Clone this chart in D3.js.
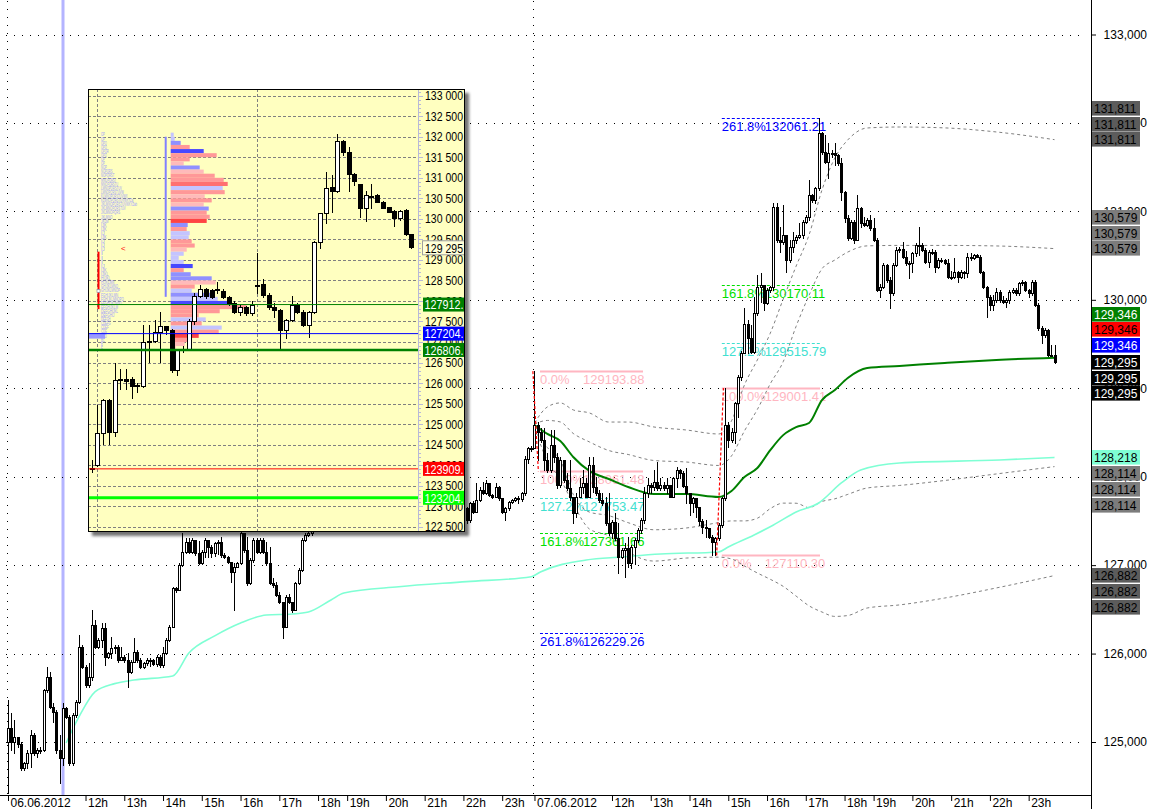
<!DOCTYPE html>
<html><head><meta charset="utf-8">
<script src="https://cdn.jsdelivr.net/npm/d3@7"></script>
<style>
html,body{margin:0;padding:0;background:#fff;}
svg{display:block;font-family:"Liberation Sans",Arial,sans-serif;}
</style></head><body>
<svg id="c" width="1149" height="809"></svg>
<script>
// ---------------- DATA ----------------
const yTicks = [125000,126000,127000,128000,129000,130000,131000,132000,133000];
const xTickBars = [0,24,36,48,60,72,84,96,105,117,129,141,153,163,187,199,211,223,235,247,259,268,280,292,304,316];
const xTickLabels = ["06.06.2012","12h","13h","14h","15h","16h","17h","18h","19h","20h","21h","22h","23h","07.06.2012","12h","13h","14h","15h","16h","17h","18h","19h","20h","21h","22h","23h"];
const dayStartBars = [0,163];
const markerBar = 17;
const firstOpen = 125004;

const day1Close = [125154,125004,125060,124977,124702,124759,124872,125079,124872,124909,
 124909,125588,125739,125399,125343,124909,124815,125380,125286,124759,
 125305,125456,126078,125852,125644,125739,126323,126078,126153,126285,
 125965,126002,126059,126078,125927,125965,125927,125795,125908,126021,
 125927,125852,125889,125927,125927,125882,125965,125870,126002,126153,
 126304,126737,126719,127001,127152,127265,127152,127284,127133,127020,
 127152,127284,127208,127133,127246,127265,127114,127095,127039,126926,
 126975,127020,127359,127171,126794,127058,127284,127152,127284,127152,
 127020,126794,126775,126662,126587,126304,126643,126587,126492,126794,
 126945,127284,127340,127359,127450,127560,127700,127850,128000,127950,
 128100,128200,128150,128050,128150,128250,128300,128200,128100,128150,
 128250,128200,128100,128000,128050,128150,128100,128000,127950,128050,
 128100,128000,127900,127950,128000,127900,127850,127900,127950,127850,
 127800,127850,127900,127800,127750,127800,127850,127750,127700,127750,
 127700,127650,127510,127699,127605,127737,127850,127812,127925,127793,
 127774,127887,127755,127605,127642,127718,127737,127755,127750,127811,
 128200,128320,128330];
const day1High = [125475,125332,125249,125060,125004,124777,124909,125136,125098,124928,
 124947,125595,125852,125795,125437,125362,125079,125437,125399,125305,
 125324,125475,126210,126097,125870,125889,126492,126379,126172,126342,
 126342,126021,126191,126097,126097,126078,125983,126002,125927,126172,
 126040,125946,125908,125946,125946,125935,125983,125983,126078,126172,
 126323,126756,126756,127020,127359,127303,127303,127303,127284,127276,
 127171,127303,127284,127227,127265,127284,127322,127133,127103,127039,
 127020,127039,127378,127367,127322,127077,127303,127303,127303,127303,
 127265,127208,126850,126813,126700,126587,126662,126673,126587,126813,
 126963,127303,127359,127397,127480,127600,127740,127880,128040,128030,
 128130,128250,128230,128170,128180,128300,128340,128320,128220,128190,
 128280,128270,128220,128120,128090,128180,128170,128120,128030,128080,
 128140,128120,128020,127980,128040,128020,127920,127930,127990,127970,
 127870,127880,127930,127920,127820,127830,127880,127870,127770,127780,
 127770,127720,127660,127718,127720,127925,127887,127944,127963,127930,
 127800,127925,127890,127760,127660,127730,127750,127770,127780,127830,
 128230,128340,128350];
const day1Low = [124420,124909,124872,124947,124683,124683,124702,124721,124853,124827,
 124872,124902,125569,125380,125230,124872,124533,124740,125267,124740,
 124740,125286,125445,125833,125626,125626,125701,126059,126059,126078,
 125870,125946,125946,126002,125908,125927,125908,125626,125776,125908,
 125908,125833,125833,125870,125863,125870,125863,125852,125852,125995,
 126146,126296,126700,126719,126990,127133,127133,127141,127114,127012,
 127012,127088,127088,127088,127103,127126,127095,127077,127028,126813,
 126492,126975,127012,127152,126775,126786,127039,127133,127141,127133,
 127001,126786,126756,126651,126575,126172,126296,126568,126474,126523,
 126786,126937,127276,127329,127340,127430,127540,127680,127830,127920,
 127930,128080,128120,128020,128030,128120,128220,128170,128070,128080,
 128120,128170,128080,127970,127980,128030,128070,127970,127920,127930,
 128030,127970,127870,127880,127930,127880,127820,127830,127880,127830,
 127770,127780,127830,127780,127720,127730,127780,127720,127670,127680,
 127670,127620,127480,127492,127590,127600,127720,127800,127800,127780,
 127760,127770,127740,127590,127510,127620,127700,127720,127700,127730,
 127790,128150,128290];

const day2Close = [128584,128509,128415,128188,128075,128358,128226,127906,128188,127962,
 127868,127774,127585,127774,127887,127925,127774,128132,127887,127811,
 127736,127698,127472,127359,127491,127303,127095,127171,127190,127020,
 127208,127284,127397,127510,127811,127906,127887,127943,127868,127906,
 127868,127906,127774,127981,128075,128040,127900,127811,127698,127755,
 127661,127500,127435,127416,127321,127265,127303,127454,127755,128584,
 128415,128509,128829,129131,129399,129726,129564,129413,129847,130148,
 130167,129960,130111,130148,131053,130676,130657,130733,130450,130601,
 130676,130714,130733,130883,130940,131185,131128,131260,131882,131675,
 131562,131656,131656,131637,131543,131223,130921,130695,130883,130676,
 131034,130872,130846,130902,130808,130676,130111,130148,130393,130224,
 130073,130393,130563,130570,130488,130412,130412,130525,130620,130620,
 130563,130431,130544,130544,130374,130450,130450,130412,130262,130262,
 130318,130262,130318,130300,130488,130469,130506,130488,130318,130148,
 130035,129941,129998,130092,129998,129979,129998,130092,130111,130073,
 130186,130205,130111,130073,130205,129941,129677,129602,129658,129376,
 129376,129295];
const day2High = [129194,128622,128546,128546,128264,128528,128528,128264,128226,128188,
 128037,128188,127774,127811,127981,128075,127981,128226,128226,128000,
 127849,127811,127774,127811,127510,127585,127472,127190,127246,127321,
 127227,127303,127416,127529,127887,127981,127925,128075,128169,127981,
 127943,127981,127906,128000,128113,128090,128060,128094,127811,127774,
 127755,127661,127520,127510,127397,127340,127321,127472,127774,129001,
 128620,128547,128850,129150,129420,129903,129771,129712,130035,130280,
 130299,130150,130130,130160,131091,131091,130827,131072,130720,130680,
 130770,130730,130864,130900,130960,131354,131200,131280,132061,131900,
 131863,131769,131690,131769,131650,131600,131230,130959,130900,130900,
 131185,131053,130940,130920,130959,130921,130700,130180,130412,130400,
 130262,130412,130601,130601,130657,130550,130440,130540,130640,130827,
 130640,130590,130560,130570,130560,130470,130470,130460,130460,130330,
 130469,130330,130340,130330,130525,130525,130520,130520,130510,130330,
 130160,130060,130054,130130,130110,130040,130020,130110,130130,130130,
 130200,130225,130210,130120,130225,130220,129960,129700,129680,129670,
 129489,129489];
const day2Low = [128320,128188,128396,128075,128056,128056,128169,127868,127887,127943,
 127849,127736,127472,127548,127766,127811,127766,127766,127830,127792,
 127717,127679,127453,127340,127303,127284,126907,127076,126869,126982,
 126963,127012,127265,127359,127472,127774,127811,127849,127849,127849,
 127849,127811,127766,127766,127887,127980,127880,127698,127566,127604,
 127548,127450,127359,127321,127303,127114,127110,127284,127435,127740,
 128340,128390,128381,128678,129094,129394,129394,129394,129394,129828,
 129980,129885,129950,130090,130111,130657,130544,130630,130318,130431,
 130544,130640,130700,130700,130870,130902,131110,131091,131241,131650,
 131543,131373,131620,131524,131520,131128,130883,130676,130690,130638,
 130846,130827,130830,130840,130789,130660,130100,130035,130130,130200,
 129903,130060,130380,130544,130470,130393,130243,130318,130500,130506,
 130550,130412,130374,130520,130318,130360,130430,130400,130250,130240,
 130250,130205,130250,130250,130260,130450,130460,130480,130300,130130,
 129809,129885,129885,129980,129980,129960,129922,129960,130080,130060,
 130054,130170,130100,130035,130060,129930,129660,129508,129580,129360,
 129360,129282];

// running VWAP line (aquamarine)
const aquaBars = [18,22,27,33,39,51,56,64,72,80,88,93,100,104,121,142,162,165,179,190,202,220,223,231,237,244,251,258,264,276,307,324];
const aquaValues = [124989,125286,125569,125660,125701,125747,126007,126200,126346,126436,126447,126470,126606,126685,126756,126813,126869,126926,127058,127092,127126,127149,127205,127341,127454,127601,127703,127929,128076,128155,128189,128218];

// day-2 VWAP and deviation bands
const vwapBars = [163,167,171,175,180,186,192,200,210,220,224,228,232,236,240,244,248,252,256,260,266,276,290,306,324];
const vwapValues = [128585,128483,128404,128223,128065,127974,127884,127804,127804,127771,127839,127997,128098,128300,128470,128560,128607,128867,128980,129116,129229,129252,129286,129320,129346];
const bandUp2 = [128607,128789,128834,128755,128721,128618,128618,128562,128528,128483,128631,129037,129320,129622,130008,130380,130733,131241,131604,131808,131943,131954,131944,131898,131811];
const bandUp1 = [128596,128636,128619,128489,128393,128296,128251,128183,128166,128127,128235,128517,128760,129050,129300,129700,130050,130350,130450,130540,130610,130615,130615,130609,130579];
const bandLo1 = [128574,128330,128189,127800,127600,127560,127480,127400,127420,127480,127500,127500,127530,127639,127701,127700,127650,127720,127750,127800,127872,127901,127957,128031,128114];
const bandLo2 = [128563,128177,127974,127691,127409,127330,127150,127046,127080,127090,127070,126990,126911,126840,126760,126650,126540,126470,126420,126430,126515,126550,126628,126742,126882];

// Fibonacci annotations
const fibLabels = ["0.0%","100.0%","127.2%","161.8%","261.8%"];
const fib1Values = [129193.88,128061.48,127753.47,127361.66,126229.26];
const fib2Values = [127110.30,129001.41,129515.79,130170.11,132061.21];
const fib1Span = [164.7,196.6], fib2Span = [221,251.4];
const fib1Anchor = [162.5,164.2], fib2Anchor = [219.4,221.5];

// right-hand price labels
const labelValues = [131811,131811,131811,130579,130579,130579,129346,129346,129346,129295,129295,129295,128218,128114,128114,128114,126882,126882,126882];
const labelFills = ["#5c5c5c","#5c5c5c","#5c5c5c","#7c7c7c","#7c7c7c","#7c7c7c","#008000","#ff0000","#0000ff","#000","#000","#000","#7fffd4","#7c7c7c","#7c7c7c","#7c7c7c","#5c5c5c","#5c5c5c","#5c5c5c"];
const labelText = ["#000","#000","#000","#000","#000","#000","#fff","#000","#fff","#fff","#fff","#fff","#000","#000","#000","#000","#000","#000","#000"];
const labelSlot = [-2,-1,0,-2,-1,0,-2.75,-1.8,-0.8,0,1,2,0,0.45,1.45,2.45,0,1,2];

// ---- inset (30-minute chart with volume / market profile) ----
const insetTicks = [122500,123000,123500,124000,124500,125000,125500,126000,126500,127000,127500,128000,128500,129000,129500,130000,130500,131000,131500,132000,132500,133000];
const insetDayBars = [0,28];
const insetOpen = [123900,124004,124775,125587,124816,126074,126090,126090,125928,125928,127008,127030,127252,127390,127292,126318,126805,126830,127500,128129,128292,128270,128290,128250,128090,127943,127740,127860,127700,
 128380,128405,128145,127861,127780,127292,127536,127900,127740,127414,127739,129445,130135,130768,130687,131897,131637,131085,130841,130273,130541,130581,130419,130289,130192,130029,130216,129623];
const insetHigh = [124126,125465,125600,125600,126497,126334,126330,126155,125993,127414,127414,127536,127730,127400,127310,126830,126900,127560,128200,128380,128320,128300,128470,128280,128110,128000,127900,127880,128000,
 129160,128535,128200,127950,127800,127560,128130,127950,127780,127750,129460,130150,131134,131069,132059,131920,131759,131110,130860,130679,130841,130600,130430,130300,130210,130210,130230,129640];
const insetLow = [123841,123990,124515,124515,124710,125847,125850,125628,125790,125900,126521,127000,126521,127200,126277,126196,126760,126800,127450,128100,128080,128080,128186,128080,127900,127700,127660,127650,127650,
 128186,128100,127800,127600,126846,127100,127500,127700,127400,127130,127700,129282,129891,130175,130650,131560,130679,130825,130054,129948,130257,130400,130260,130160,129834,129972,129610,129290];
const insetClose = [123930,124775,125587,124816,126074,126090,126060,125928,125950,127008,127030,127252,127390,127292,126318,126805,126830,127500,128130,128292,128129,128105,128295,128105,127943,127740,127860,127700,127900,
 128395,128145,127861,127780,127292,127536,127900,127740,127414,127739,129445,130135,130744,130687,131897,131637,131085,130922,130273,130581,130560,130419,130273,130175,130029,130192,129623,129307];
const insetFirstBar = -1;
const profileTop = 132100, profileStep = 100;
const profileVol = [3,4,10,19,33,46,19,13,29,33,44,53,57,52,54,34,41,33,38,36,39,36,17,16,19,18,21,24,16,13,8,13,22,13,20,41,45,24,21,44,47,58,76,49,28,35,31,51,48,28,21,14,5];
const profileKind = "LLBPDPPKBKPPSLPKPKBPPRBPLLPPKLLLDPBBKPLBLDPPPLPLPRPKK";
const tpoRows = ["OP","OP","OPQ","OPQ","OPQR","OPQ","OP","OP","NOP","NOPQRS","NOPQRST","MNOPQRST","MNOPQRSTU","LMNOPQRSTUV","LMNOPQRSTUVW","KLMNOPQRSTUVWX","KLMNOPQRSTUVWXYZa","JKLMNOPQRSTUVWXYZab","JKLMNOPQRSTUV","JKLMNOPQRS","JKLMNO","JKLM","IJK","IJK","IJ","IJK","IJ","IJ","IJ","I","I","I","IJ","IJK","IJKL","HIJKL","HIJKLMN","GHIJKLMNO","GHIJKLMNOP","FGHIJKLMN","FGHIJKLMNOPQ","EFGHIJKLMNO","EFGHIJKLM","DEFGHIJKL","DEFGHIJ","DEFGH","CDEFG","CDEF","CDE","BCD","BC","B","E"];
const insetLevels = [127912,127204,126806,123909,123204];
const insetLevelNames = ["127912.","127204.","126806.","123909.","123204."];
const insetLast = 129295;
const ibRange = [129200,127800];
const ibMark = 128245;
const valueArea = [132000,128100];

// ---------------- DRAWING ----------------
const svg = d3.select('#c');
const W = 1149, H = 809, plotR = 1091, plotB = 795;
const x = d3.scaleLinear().domain([0,324]).range([8,1054.5]);
const y = d3.scaleLinear().domain([125000,133000]).range([742,34.5]);

svg.append('rect').attr('width',W).attr('height',H).attr('fill','#fff');

// lavender marker band
svg.append('rect').attr('x',Math.round(x(markerBar))-1.5).attr('y',0).attr('width',3).attr('height',plotB).attr('fill','#b4b4ff');

// dotted grid
const grid = svg.append('g').attr('stroke','#000').attr('stroke-width',1).attr('stroke-dasharray','1,7').attr('shape-rendering','crispEdges');
yTicks.forEach(v=>{const yy=Math.round(y(v))+0.5;grid.append('line').attr('x1',6).attr('x2',1084).attr('y1',yy).attr('y2',yy);});
dayStartBars.forEach(b=>{const xx=Math.round(x(b)-1.5)+0.5;grid.append('line').attr('x1',xx).attr('x2',xx).attr('y1',1).attr('y2',plotB);});

// Fibonacci sets
const fibColors = ["#ffb6c1","#ffb6c1","#40e0d0","#00e000","#0000ff"];
function drawFib(vals,span){
  const g = svg.append('g');
  vals.forEach((v,i)=>{
    const yy = Math.round(y(v))+0.5;
    g.append('line').attr('x1',x(span[0])).attr('x2',x(span[1])).attr('y1',yy).attr('y2',yy)
      .attr('stroke',fibColors[i]).attr('stroke-width',i<2?2:1).attr('stroke-dasharray',i<2?null:'3,2');
    g.append('text').attr('x',x(span[0])).attr('y',yy+12.5).attr('fill',fibColors[i]).attr('font-size',13).text(fibLabels[i]);
    g.append('text').attr('x',x(span[0])+43).attr('y',yy+12.5).attr('fill',fibColors[i]).attr('font-size',13).text(v.toFixed(2));
  });
}
drawFib(fib1Values,fib1Span);
drawFib(fib2Values,fib2Span);

// lines
function seriesLine(bars,vals){return d3.line().x((d,i)=>x(bars[i])).y(d=>y(d)).curve(d3.curveMonotoneX)(vals);}
[bandUp2,bandUp1,bandLo1,bandLo2].forEach(b=>{
  svg.append('path').attr('d',seriesLine(vwapBars,b)).attr('fill','none').attr('stroke','#808080').attr('stroke-width',1).attr('stroke-dasharray','3,3');
});
svg.append('path').attr('d',seriesLine(aquaBars,aquaValues)).attr('fill','none').attr('stroke','#7fffd4').attr('stroke-width',1.6);
svg.append('path').attr('d',seriesLine(vwapBars,vwapValues)).attr('fill','none').attr('stroke','#008000').attr('stroke-width',2);

// candles
const closes = day1Close.concat(day2Close), highs = day1High.concat(day2High), lows = day1Low.concat(day2Low);
const candles = closes.map((c,i)=>{const o = i===0?firstOpen:closes[i-1];return {i,o,c,h:Math.max(highs[i],o,c),l:Math.min(lows[i],o,c)};});
const cg = svg.append('g').attr('shape-rendering','crispEdges');
candles.forEach(d=>{
  const cx = Math.round(x(d.i));
  cg.append('line').attr('x1',cx+0.5).attr('x2',cx+0.5).attr('y1',Math.round(y(d.h))).attr('y2',Math.round(y(d.l))+1).attr('stroke','#000');
  const t = Math.round(y(Math.max(d.o,d.c))), b = Math.round(y(Math.min(d.o,d.c)));
  cg.append('rect').attr('x',cx-0.5).attr('y',t+0.5).attr('width',2).attr('height',Math.max(1,b-t))
    .attr('fill',d.c>=d.o?'#fff':'#000').attr('stroke','#000').attr('stroke-width',1);
});

// fib anchor connectors
[[fib1Anchor,fib1Values],[fib2Anchor,fib2Values]].forEach(([a,v])=>{
  svg.append('line').attr('x1',x(a[0])).attr('x2',x(a[1])).attr('y1',y(v[0])).attr('y2',y(v[1]))
    .attr('stroke','#ff0000').attr('stroke-width',1.2).attr('stroke-dasharray','3,2');
});

// ---------------- INSET ----------------
const defs = svg.append('defs');
const f = defs.append('filter').attr('id','sh').attr('x','-5%').attr('y','-5%').attr('width','115%').attr('height','115%');
f.append('feDropShadow').attr('dx',4).attr('dy',4).attr('stdDeviation',1.5).attr('flood-color','#000').attr('flood-opacity',0.55);
defs.append('clipPath').attr('id','ic').append('rect').attr('x',88).attr('y',89).attr('width',377).attr('height',443);

const ix = d3.scaleLinear().domain([0,55]).range([97.4,411.45]);
const iy = d3.scaleLinear().domain([122500,133000]).range([526.7,95.7]);
const ig = svg.append('g');
ig.append('rect').attr('x',88).attr('y',89).attr('width',377).attr('height',443).attr('fill','#ffffc0').attr('filter','url(#sh)');
const inner = ig.append('g').attr('clip-path','url(#ic)');

// inset grid
const ig2 = inner.append('g').attr('stroke','#808080').attr('stroke-dasharray','3,2').attr('shape-rendering','crispEdges');
insetTicks.forEach(v=>{const yy=Math.round(iy(v))+0.5;ig2.append('line').attr('x1',88).attr('x2',416).attr('y1',yy).attr('y2',yy);});
insetDayBars.forEach(b=>{const xx=Math.round(ix(b))+0.5;ig2.append('line').attr('x1',xx).attr('x2',xx).attr('y1',89).attr('y2',532);});

// ruler
const ruler = inner.append('g').attr('stroke','#b8b8d8').attr('shape-rendering','crispEdges');
ruler.append('line').attr('x1',418.5).attr('x2',418.5).attr('y1',89).attr('y2',532);
d3.range(122400,133300,100).forEach(v=>{const yy=Math.round(iy(v))+0.5;ruler.append('line').attr('x1',418).attr('x2',v%500===0?423:421).attr('y1',yy).attr('y2',yy);});
const ifont = "'Liberation Sans Narrow','Arial Narrow','Liberation Sans',sans-serif";
function narrowText(g,xx,yy,txt,col,len){
  return g.append('text').attr('x',xx).attr('y',yy).attr('font-family',ifont).attr('font-size',13).attr('fill',col)
    .attr('textLength',len).attr('lengthAdjust','spacingAndGlyphs').text(txt);
}
insetTicks.forEach(v=>narrowText(inner,425,iy(v)+4.6,d3.format(',')(v).replace(',',' '),'#000',38));

// market profile letters
const rowY = k=>iy(profileTop - k*profileStep);
tpoRows.forEach((s,k)=>{
  inner.append('text').attr('x',101).attr('y',rowY(k)+3.8).attr('font-size',5.5).attr('fill','#9a9aff')
    .attr('textLength',s.length*1.9).attr('lengthAdjust','spacingAndGlyphs').text(s);
});
// volume profile
const kindColor = {L:'#c4c4ff',B:'#9090ff',D:'#4848ff',P:'#ff9898',K:'#ffbaba',S:'#ff7070',R:'#ff4444'};
const vx = d3.scaleLinear().domain([0,100]).range([0,100]);
profileVol.forEach((v,k)=>{
  const t = rowY(k), b = iy(profileTop-(k+1)*profileStep);
  inner.append('rect').attr('x',170.7).attr('y',t).attr('width',vx(v)).attr('height',b-t).attr('fill',kindColor[profileKind[k]]);
});
// value area / initial balance markers
inner.append('line').attr('x1',165.7).attr('x2',165.7).attr('y1',iy(valueArea[0])).attr('y2',iy(valueArea[1])).attr('stroke','#8080ff').attr('stroke-width',2);
inner.append('line').attr('x1',98.5).attr('x2',98.5).attr('y1',iy(ibRange[0])).attr('y2',iy(ibRange[1])).attr('stroke','#ff0000').attr('stroke-width',2);
inner.append('rect').attr('x',97).attr('y',iy(ibMark)-1.5).attr('width',3).attr('height',3).attr('fill','#fff').attr('stroke','#8080a0').attr('stroke-width',0.6);
inner.append('text').attr('x',121).attr('y',iy(insetLast)+3).attr('font-size',8).attr('fill','#ff0000').text('<');
inner.append('rect').attr('x',88).attr('y',iy(insetLevels[1])).attr('width',17).attr('height',5).attr('fill','#9a9aff');

// inset candles
const icg = inner.append('g').attr('shape-rendering','crispEdges');
insetClose.forEach((c,k)=>{
  const j = k + insetFirstBar, o = insetOpen[k];
  const cx = Math.round(ix(j));
  const hi = Math.max(insetHigh[k],o,c), lo = Math.min(insetLow[k],o,c);
  icg.append('line').attr('x1',cx+0.5).attr('x2',cx+0.5).attr('y1',Math.round(iy(hi))).attr('y2',Math.round(iy(lo))+1).attr('stroke','#000');
  const t = Math.round(iy(Math.max(o,c))), b = Math.round(iy(Math.min(o,c)));
  icg.append('rect').attr('x',cx-1.5).attr('y',t+0.5).attr('width',4).attr('height',Math.max(1,b-t))
    .attr('fill',c>=o?'#fff':'#000').attr('stroke','#000');
});

// inset level lines + labels
const lvlColor = ['#008000','#0000ff','#008000','#ff0000','#00ff00'];
const lvlWidth = [1,1,2.5,1,3];
insetLevels.forEach((v,i)=>{
  const yy = iy(v);
  inner.append('line').attr('x1',88).attr('x2',418).attr('y1',yy).attr('y2',yy).attr('stroke',lvlColor[i]).attr('stroke-width',lvlWidth[i]);
  inner.append('rect').attr('x',423).attr('y',yy-7).attr('width',42).attr('height',14).attr('fill',lvlColor[i]);
  narrowText(inner,424.5,yy+4.8,insetLevelNames[i],'#fff',39);
});
{
  const yy = iy(insetLast);
  inner.append('rect').attr('x',422.5).attr('y',yy-7).attr('width',42).attr('height',14).attr('fill','#ffffd8').attr('stroke','#a0a0a0');
  narrowText(inner,425,yy+4.8,d3.format(',')(insetLast).replace(',',' '),'#000',38);
}
ig.append('rect').attr('x',88.5).attr('y',89.5).attr('width',376).attr('height',442).attr('fill','none').attr('stroke','#000');

// ---------------- AXES ----------------
const ya = svg.append('g').attr('transform',`translate(${plotR},0)`)
  .call(d3.axisRight(y).tickValues(yTicks).tickSize(5).tickFormat(d3.format(',')));
ya.select('.domain').remove();
ya.selectAll('.tick line').attr('stroke','#000');
ya.selectAll('.tick text').attr('x',56).attr('text-anchor','end').attr('font-size',12).attr('font-family','"Liberation Sans",Arial,sans-serif').attr('fill','#000');
svg.append('line').attr('x1',plotR+0.5).attr('x2',plotR+0.5).attr('y1',0).attr('y2',H).attr('stroke','#000');

// price boxes
const lb = svg.append('g');
labelValues.forEach((v,i)=>{
  const cy = y(v) + labelSlot[i]*15.7;
  lb.append('rect').attr('x',1092).attr('y',Math.round(cy-7.3)).attr('width',48).attr('height',14.6).attr('fill',labelFills[i]);
  lb.append('text').attr('x',1094).attr('y',Math.round(cy-7.3)+12).attr('font-size',12).attr('fill',labelText[i]).text(d3.format(',')(v));
});

// bottom axis
const xa = svg.append('g').attr('transform',`translate(0,${plotB})`)
  .call(d3.axisBottom(x).tickValues(xTickBars).tickSize(5).tickFormat((d,i)=>xTickLabels[i]));
xa.select('.domain').remove();
xa.selectAll('.tick line').attr('stroke','#000').attr('y1',1).attr('y2',6);
xa.selectAll('.tick text').attr('x',2).attr('y',3).attr('dy','0.71em').attr('text-anchor','start').attr('font-size',12)
  .attr('font-family','"Liberation Sans",Arial,sans-serif').attr('fill','#000');
svg.append('line').attr('x1',0).attr('x2',plotR).attr('y1',plotB+0.5).attr('y2',plotB+0.5).attr('stroke','#000');
</script></body></html>
